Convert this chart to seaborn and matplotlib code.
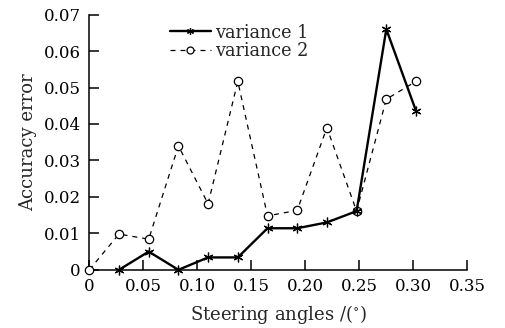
import numpy as np
import pandas as pd
import matplotlib
matplotlib.use("Agg")
import matplotlib.pyplot as plt
import seaborn as sns

# values
angles_v1 = [0.0275, 0.055, 0.0825, 0.11, 0.1375, 0.165, 0.1925, 0.22, 0.2475, 0.275, 0.3025]
error_v1 = [0.0, 0.005, 0.0, 0.0034, 0.0034, 0.0114, 0.0114, 0.013, 0.0161, 0.066, 0.0436]

angles_v2 = [0.0, 0.0275, 0.055, 0.0825, 0.11, 0.1375, 0.165, 0.1925, 0.22, 0.2475, 0.275, 0.3025]
error_v2 = [0.0, 0.0098, 0.0084, 0.034, 0.0181, 0.0517, 0.0148, 0.0163, 0.039, 0.0161, 0.0468, 0.0517]

x_ticks = [0, 0.05, 0.10, 0.15, 0.20, 0.25, 0.30, 0.35]
x_tick_labels = ["0", "0.05", "0.10", "0.15", "0.20", "0.25", "0.30", "0.35"]
y_ticks = [0, 0.01, 0.02, 0.03, 0.04, 0.05, 0.06, 0.07]
y_tick_labels = ["0", "0.01", "0.02", "0.03", "0.04", "0.05", "0.06", "0.07"]

sns.set_style("ticks")
plt.rcParams['font.family'] = ['DejaVu Serif']
plt.rcParams['mathtext.fontset'] = 'dejavuserif'

fig = plt.figure(figsize=(5.06, 3.28), dpi=100)
ax = fig.add_axes([0.1765, 0.1774, 0.747, 0.778])

df1 = pd.DataFrame({"angle": angles_v1, "error": error_v1})
df2 = pd.DataFrame({"angle": angles_v2, "error": error_v2})

sns.lineplot(data=df1, x="angle", y="error", ax=ax, color="black", linewidth=1.7,
             marker=(6, 2, 0), markersize=7, markeredgewidth=0.9, markeredgecolor="black",
             label="variance 1", clip_on=False, zorder=4)
sns.lineplot(data=df2, x="angle", y="error", ax=ax, color="black", linewidth=0.9,
             marker="o", markersize=6, markerfacecolor="white",
             markeredgecolor="black", markeredgewidth=0.9, label="variance 2",
             clip_on=False, zorder=3)
ax.lines[1].set_dashes((4, 4))

ax.set_xlim(0, 0.35)
ax.set_ylim(0, 0.07)
ax.set_xticks(x_ticks)
ax.set_xticklabels(x_tick_labels)
ax.set_yticks(y_ticks)
ax.set_yticklabels(y_tick_labels)
ax.tick_params(direction="in", length=7, width=1.1, labelsize=12, colors="black", pad=6)
ax.spines["top"].set_visible(False)
ax.spines["right"].set_visible(False)
for s in ["left", "bottom"]:
    ax.spines[s].set_linewidth(1.1)
    ax.spines[s].set_color("black")

ax.set_xlabel("Steering angles /($^{\\circ}$)", fontsize=13, labelpad=6)
ax.set_ylabel("Accuracy error", fontsize=13, labelpad=5)

leg = ax.legend(loc="upper left", bbox_to_anchor=(0.2135, 0.965), frameon=False, fontsize=12.7,
                handlelength=2.3, handletextpad=0.28, labelspacing=0.02, borderpad=0,
                borderaxespad=0)
for h in leg.get_lines():
    h.set_markersize(5)
leg.get_lines()[1].set_dashes((4, 4))

fig.savefig("out.png", dpi=100)
